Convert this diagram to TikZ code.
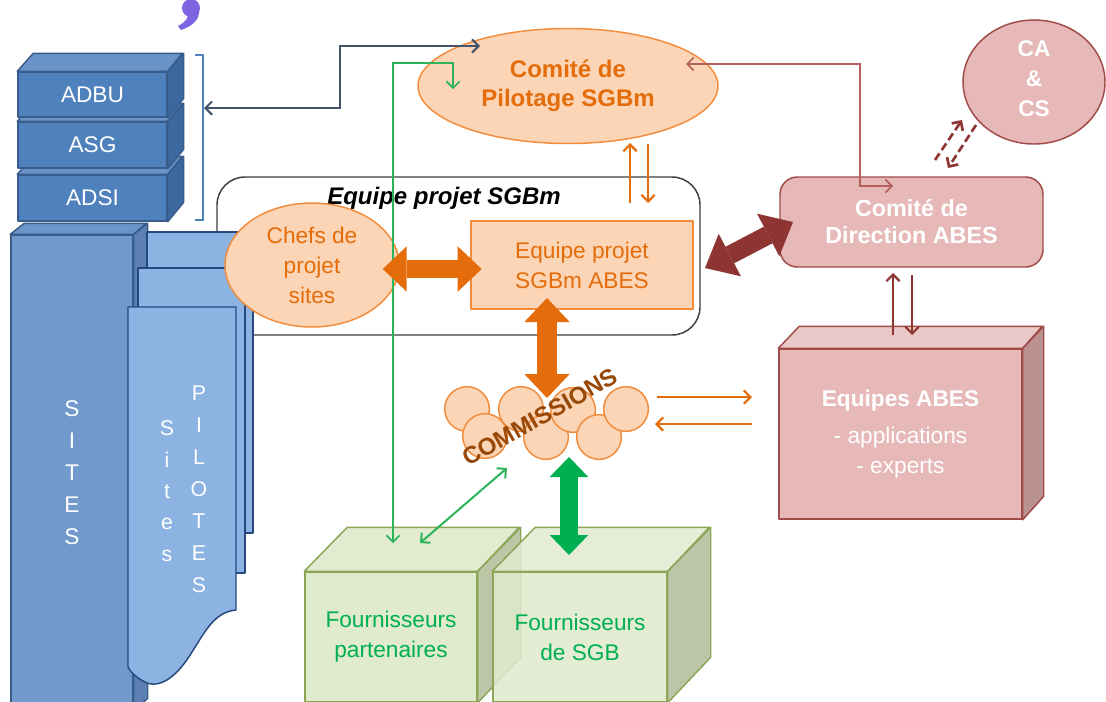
\documentclass[tikz,border=0pt]{standalone}
\usepackage{fontspec}
\setmainfont{Liberation Sans}
\usetikzlibrary{arrows.meta,shapes.geometric,calc}
\definecolor{bfront}{RGB}{79,129,189}
\definecolor{bside}{RGB}{60,104,160}
\definecolor{btop}{RGB}{106,148,200}
\definecolor{bline}{RGB}{56,93,138}
\definecolor{sfill}{RGB}{114,153,203}
\definecolor{sside}{RGB}{92,128,180}
\definecolor{pfill}{RGB}{141,179,226}
\definecolor{pline}{RGB}{37,73,125}
\definecolor{ofill}{RGB}{251,213,181}
\definecolor{oline}{RGB}{242,140,60}
\definecolor{otext}{RGB}{228,108,10}
\definecolor{cbrown}{RGB}{152,72,7}
\definecolor{rfill}{RGB}{230,185,184}
\definecolor{rline}{RGB}{160,75,72}
\definecolor{rside}{RGB}{185,146,144}
\definecolor{rtop}{RGB}{234,200,199}
\definecolor{rarrow}{RGB}{142,52,50}
\definecolor{rthin}{RGB}{180,95,92}
\definecolor{gfill}{RGB}{224,234,205}
\definecolor{gside}{RGB}{188,198,166}
\definecolor{gtop}{RGB}{226,235,208}
\definecolor{gline}{RGB}{138,166,86}
\definecolor{gtext}{RGB}{0,176,80}
\definecolor{gthin}{RGB}{45,180,90}
\definecolor{slate}{RGB}{68,84,106}
\definecolor{purp}{RGB}{125,100,225}
\begin{document}
\begin{tikzpicture}[x=0.75pt,y=-0.75pt,
  every node/.style={font=\fontsize{17}{22.5}\selectfont, inner sep=0pt, align=center},
  boxline/.style={line width=1.1pt, line join=round},
  bluecube/.style={boxline, draw=bline, fill=bfront, text=white, rectangle},
  thinarr/.style={line width=1.6pt, -{Straight Barb[length=5pt,width=10pt]}},
  thinboth/.style={line width=1.3pt, {Straight Barb[length=5pt,width=10pt]}-{Straight Barb[length=5pt,width=10pt]}},
  bigarr/.style={line width=#1, {Triangle[width=34pt,length=18pt,line width=0pt]}-{Triangle[width=34pt,length=18pt,line width=0pt]}},
  ellnode/.style={ellipse, boxline},
]
\useasboundingbox (0,0) rectangle (1106,701);
\fill[white] (0,0) rectangle (1106,701);

% purple comma
\fill[purp] (191,8) circle[radius=9];
\fill[purp] (199,10) .. controls (200,19) and (193,26) .. (181,30) -- (178,26) .. controls (186,22) and (189,17) .. (188,12) -- cycle;

% Equipe projet SGBm frame
\node[draw=black!75, line width=1.1pt, rounded corners=21pt, minimum width=362.25pt, minimum height=118.5pt] (eqproj) at (458.5,256) {};

% SITES block
\node[boxline, draw=bline, fill=sfill, text=white, minimum width=91.5pt, minimum height=356.25pt, font=\fontsize{17}{24}\selectfont] (sites) at (72,472.5) {S\\I\\T\\E\\S};
\filldraw[boxline, fill=btop!85!sfill, draw=bline] (sites.north west) -- ++(14,-11) -- ++(122,0) -- (sites.north east) -- cycle;
\filldraw[boxline, fill=sside, draw=bline] (sites.north east) -- ++(14,-11) -- ++(0,475) -- (sites.south east) -- cycle;

% stacked blue boxes
\node[bluecube, minimum width=111.75pt, minimum height=34.5pt] (adsi) at (92.5,198) {ADSI};
\filldraw[boxline, fill=btop, draw=bline] (adsi.north west) -- ++(16,-18) -- ++(149,0) -- (adsi.north east) -- cycle;
\filldraw[boxline, fill=bside, draw=bline] (adsi.north east) -- ++(16,-18) -- ++(0,46) -- (adsi.south east) -- cycle;
\node[bluecube, minimum width=111.75pt, minimum height=34.5pt] (asg) at (92.5,145) {ASG};
\filldraw[boxline, fill=btop, draw=bline] (asg.north west) -- ++(16,-18) -- ++(149,0) -- (asg.north east) -- cycle;
\filldraw[boxline, fill=bside, draw=bline] (asg.north east) -- ++(16,-18) -- ++(0,46) -- (asg.south east) -- cycle;
\node[bluecube, minimum width=111.75pt, minimum height=33.75pt] (adbu) at (92.5,94.5) {ADBU};
\filldraw[boxline, fill=btop, draw=bline] (adbu.north west) -- ++(16,-18) -- ++(149,0) -- (adbu.north east) -- cycle;
\filldraw[boxline, fill=bside, draw=bline] (adbu.north east) -- ++(16,-18) -- ++(0,45) -- (adbu.south east) -- cycle;

% bracket
\draw[line width=1.1pt, draw=bfront] (195,55) -- (203,55) -- (203,220) -- (195,220);
\coordinate (brk) at (204,108);

% Sites pilotes pages
\filldraw[boxline, fill=pfill, draw=pline] (147,232) rectangle (253,533);
\filldraw[boxline, fill=pfill, draw=pline] (138,268) rectangle (245,573);
\filldraw[boxline, fill=pfill, draw=pline] (128,307) -- (236,307) -- (236,610) .. controls (214,612) and (205,632) .. (192,652) .. controls (178,675) and (162,688) .. (147,683) .. controls (138,679) and (131,673) .. (128,667) -- cycle;
\node[text=white, font=\fontsize{16}{23.5}\selectfont] (sitesp) at (167,491) {S\\i\\t\\e\\s};
\node[text=white, font=\fontsize{16}{24}\selectfont] (pilotes) at (199,489) {P\\I\\L\\O\\T\\E\\S};

% label of frame
\node[font=\fontsize{18}{20}\selectfont\bfseries\itshape] (eqlbl) at (444,198) {Equipe projet SGBm};

% Chefs de projet sites
\node[ellnode, draw=oline, fill=ofill, text=otext, minimum width=130.5pt, minimum height=93pt] (chefs) at (312,265) {Chefs de\\projet\\sites};

% Equipe projet SGBm ABES
\node[boxline, draw=oline, fill=ofill, text=otext, minimum width=166.5pt, minimum height=66pt] (eqabes) at (582,265) {Equipe projet\\SGBm ABES};

% Comite de pilotage
\node[ellnode, draw=oline, fill=ofill, text=otext, font=\fontsize{18}{21.75}\selectfont\bfseries, minimum width=225pt, minimum height=86.25pt] (cpil) at (568,86) {Comité de\\Pilotage SGBm};

% CA & CS
\node[ellnode, draw=rline, fill=rfill, text=white, font=\fontsize{17}{22.5}\selectfont\bfseries, text depth=5pt, minimum width=106.5pt, minimum height=93pt] (cacs) at (1034,82) {CA\\\&\\CS};

% Comite de direction
\node[boxline, draw=rline, fill=rfill, text=white, rounded corners=13pt, font=\fontsize{17.5}{20.25}\selectfont\bfseries, minimum width=197.25pt, minimum height=67.5pt] (cdir) at (911.5,222) {Comité de\\Direction ABES};

% Equipes ABES cube
\node[boxline, draw=rline, fill=rfill, text=white, minimum width=182.25pt, minimum height=127.5pt] (eqab) at (900.5,434) {\textbf{Equipes ABES}\\[5pt]- applications\\- experts};
\filldraw[boxline, fill=rtop, draw=rline] (eqab.north west) -- ++(21,-22) -- ++(243,0) -- (eqab.north east) -- cycle;
\filldraw[boxline, fill=rside, draw=rline] (eqab.north east) -- ++(21,-22) -- ++(0,170) -- (eqab.south east) -- cycle;

% Fournisseurs cubes
\node[boxline, draw=gline, fill=gfill, text=gtext, minimum width=129pt, minimum height=97.5pt] (fpart) at (391,637) {Fournisseurs\\partenaires};
\filldraw[boxline, fill=gtop, draw=gline] (fpart.north west) -- ++(43,-44) -- ++(172,0) -- (fpart.north east) -- cycle;
\filldraw[boxline, fill=gside, draw=gline] (fpart.north east) -- ++(43,-44) -- ++(0,130) -- (fpart.south east) -- cycle;
\node[boxline, draw=gline, fill=gfill, fill opacity=0.85, text opacity=1, text=gtext, minimum width=130.5pt, minimum height=97.5pt] (fsgb) at (580,637) {Fournisseurs\\de SGB};
\filldraw[boxline, fill=gtop, fill opacity=0.85, draw=gline] (fsgb.north west) -- ++(43,-44) -- ++(174,0) -- (fsgb.north east) -- cycle;
\filldraw[boxline, fill=gside, draw=gline] (fsgb.north east) -- ++(43,-44) -- ++(0,130) -- (fsgb.south east) -- cycle;

% Commissions
\foreach \n/\cx/\cy in {c1/467/409, c2/485/436, c3/521/409, c4/546/437, c5/573/410, c6/599/437, c7/626/409}{
  \node[circle, boxline, draw=oline, fill=ofill, minimum size=33.5pt] (\n) at (\cx,\cy) {};
}
\node[text=cbrown, rotate=29.5, font=\fontsize{18}{20}\selectfont\bfseries] (comm) at (540,417) {COMMISSIONS};

% connector coordinates
\coordinate (cpilS) at (480,46);
\coordinate (cpilG) at (453,89);
\coordinate (fpG) at (393,543);
\coordinate (fpD) at (420,543);
\coordinate (commD) at (507,468);
\coordinate (cpilR) at (686,64);
\coordinate (cdirR) at (893,186);
\coordinate (cpilU) at (630,143);
\coordinate (eqU) at (630,203);
\coordinate (cpilD) at (648,144);
\coordinate (eqD) at (648,203);
\coordinate (chefsA) at (382.7,269);
\coordinate (eqabesA) at (481.7,269);
\coordinate (eqabesB) at (547,298);
\coordinate (commA) at (547,398);
\coordinate (commB) at (569,457);
\coordinate (fsgbA) at (569,555);
\coordinate (eqprojR) at (705,268);
\coordinate (cdirL) at (793,222);
\coordinate (cdirU) at (893,273);
\coordinate (eqabU) at (893,335);
\coordinate (cdirD) at (912,275);
\coordinate (eqabD) at (912,335);
\coordinate (commR) at (657,397);
\coordinate (eqabR) at (752,397);
\coordinate (commL) at (655,424);
\coordinate (eqabL) at (752,424);
\coordinate (cdirC) at (935,160);
\coordinate (cacsC) at (962,120);
\coordinate (cacsD) at (976,125);
\coordinate (cdirE) at (948,168);

% thin connectors
\draw[thinboth, draw=slate, line width=1.5pt] (brk) -- ++(136,0) |- (cpilS);
\draw[thinboth, draw=gthin, line width=1.2pt] (cpilG) -- ++(0,-26) -| (fpG);
\draw[thinboth, draw=gthin, line width=1.5pt] (commD) -- (fpD);
\draw[thinboth, draw=rthin, line width=1.2pt] (cpilR) -- ++(174,0) |- (cdirR);
\draw[thinarr, draw=otext] (eqU) -- (cpilU);
\draw[thinarr, draw=otext] (cpilD) -- (eqD);
\draw[thinarr, draw=otext] (commR) -- (eqabR);
\draw[thinarr, draw=otext] (eqabL) -- (commL);
\draw[thinarr, draw=rarrow] (eqabU) -- (cdirU);
\draw[thinarr, draw=rarrow] (cdirD) -- (eqabD);
\draw[thinarr, draw=rarrow, dash pattern=on 6pt off 3pt, line width=2pt] (cdirC) -- (cacsC);
\draw[thinarr, draw=rarrow, dash pattern=on 6pt off 3pt, line width=2pt] (cacsD) -- (cdirE);

% thick double arrows
\draw[bigarr=13.5pt, draw=otext] (chefsA) -- (eqabesA);
\draw[bigarr=15pt, draw=otext] (eqabesB) -- (commA);
\draw[bigarr=13.5pt, draw=gtext, {Triangle[width=29pt,length=15pt,line width=0pt]}-{Triangle[width=29pt,length=15pt,line width=0pt]}] (commB) -- (fsgbA);
\draw[bigarr=14pt, draw=rarrow, {Triangle[width=36pt,length=21pt,line width=0pt]}-{Triangle[width=36pt,length=21pt,line width=0pt]}] (eqprojR) -- (cdirL);
\end{tikzpicture}
\end{document}
